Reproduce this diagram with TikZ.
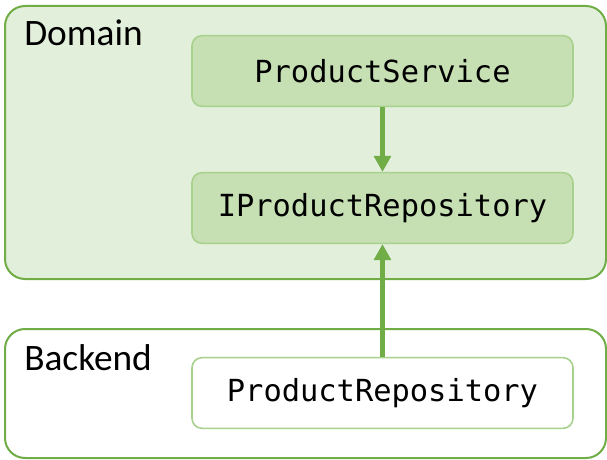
\documentclass[tikz,border=0pt]{standalone}
\usepackage{fontspec}
\setmainfont{Carlito}
\setmonofont{DejaVu Sans Mono}
\usetikzlibrary{arrows.meta}
\definecolor{gdark}{HTML}{70AD47}
\definecolor{glight}{HTML}{A9D18E}
\definecolor{gfill}{HTML}{E2EFDA}
\definecolor{gfillb}{HTML}{C6E0B4}
\tikzset{
  layer/.style={draw=gdark, line width=1.5pt, rounded corners=15pt},
  comp/.style={draw=glight, line width=1.2pt, rounded corners=7.5pt, minimum width=285.75pt, minimum height=53pt, inner sep=0pt, font=\fontsize{22.8}{26}\selectfont\ttfamily},
  layertitle/.style={anchor=north west, inner sep=0pt, font=\fontsize{28}{31}\selectfont},
  dep/.style={draw=gdark, line width=3.2pt, -{Triangle[length=12pt,width=12.5pt]}}
}
\begin{document}
\begin{tikzpicture}[x=0.75pt,y=-0.75pt]
\useasboundingbox (0,0) rectangle (607,460);
\draw[layer, fill=gfill] (5,6) rectangle (606,279);
\draw[layer, fill=white] (5,329) rectangle (606,458);
\node[layertitle] (domain) at (24,20) {Domain};
\node[layertitle] (backend) at (24,344) {Backend};
\node[comp, fill=gfillb] (svc) at (382.5,71) {ProductService};
\node[comp, fill=gfillb] (irepo) at (382.5,208) {IProductRepository};
\node[comp, fill=white] (repo) at (382.5,393) {ProductRepository};
\draw[dep] (svc) -- (irepo);
\draw[dep] (repo) -- (irepo);
\end{tikzpicture}
\end{document}
